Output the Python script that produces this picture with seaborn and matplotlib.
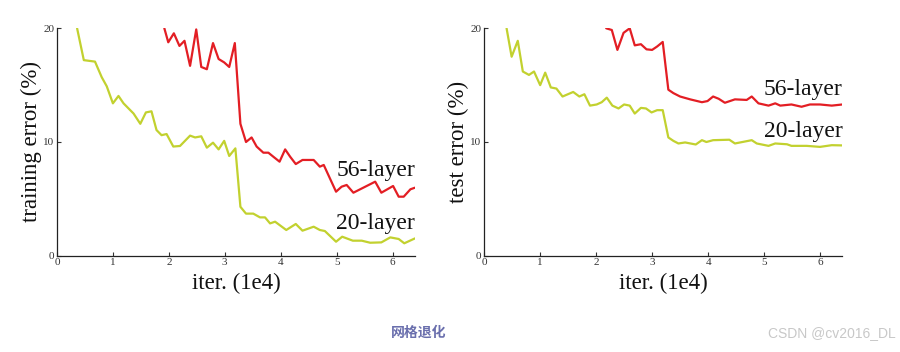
import numpy as np
import pandas as pd
import matplotlib
matplotlib.use("Agg")
import matplotlib.pyplot as plt
import seaborn as sns

# training error, 20-layer
train20_x = [0.36, 0.48, 0.68, 0.80, 0.89, 1.00, 1.10, 1.19, 1.37, 1.49, 1.59, 1.69, 1.78, 1.87, 1.96,
             2.08, 2.20, 2.38, 2.47, 2.58, 2.68, 2.79, 2.89, 2.99, 3.08, 3.19, 3.28, 3.38, 3.51, 3.63,
             3.72, 3.81, 3.90, 4.10, 4.27, 4.39, 4.59, 4.70, 4.79, 4.99, 5.10, 5.29, 5.45, 5.60, 5.80,
             5.96, 6.11, 6.21, 6.40]
train20_y = [20.0, 17.2, 17.07, 15.7, 14.9, 13.4, 14.05, 13.4, 12.5, 11.6, 12.6, 12.7, 11.05, 10.6, 10.7,
             9.6, 9.65, 10.56, 10.4, 10.5, 9.5, 9.94, 9.35, 10.1, 8.77, 9.44, 4.3, 3.7, 3.7, 3.37,
             3.37, 2.84, 2.99, 2.26, 2.79, 2.2, 2.55, 2.26, 2.17, 1.23, 1.67, 1.32, 1.32, 1.14, 1.17,
             1.61, 1.47, 1.09, 1.52]

# training error, 56-layer
train56_x = [1.92, 1.99, 2.09, 2.19, 2.28, 2.38, 2.49, 2.58, 2.68, 2.79, 2.89, 2.99, 3.08, 3.18, 3.28,
             3.38, 3.48, 3.57, 3.69, 3.78, 3.87, 3.98, 4.08, 4.17, 4.27, 4.39, 4.59, 4.70, 4.77, 4.99,
             5.09, 5.18, 5.30, 5.69, 5.80, 6.01, 6.11, 6.20, 6.32, 6.40]
train56_y = [20.0, 18.77, 19.56, 18.45, 18.9, 16.7, 19.9, 16.6, 16.4, 18.7, 17.3, 17.0, 16.6, 18.7, 11.6,
             10.0, 10.4, 9.6, 9.06, 9.06, 8.7, 8.27, 9.35, 8.7, 8.06, 8.42, 8.42, 7.83, 7.98, 5.63,
             6.07, 6.22, 5.54, 6.51, 5.54, 6.13, 5.19, 5.19, 5.84, 5.98]

# test error, 20-layer
test20_x = [0.40, 0.49, 0.60, 0.69, 0.80, 0.89, 1.00, 1.09, 1.19, 1.29, 1.40, 1.59, 1.70, 1.79, 1.89,
            2.01, 2.10, 2.19, 2.29, 2.40, 2.50, 2.60, 2.69, 2.80, 2.89, 2.99, 3.09, 3.19, 3.29, 3.38,
            3.47, 3.59, 3.78, 3.89, 3.97, 4.09, 4.38, 4.48, 4.78, 4.87, 5.08, 5.20, 5.41, 5.49, 5.76,
            6.00, 6.21, 6.40]
test20_y = [20.0, 17.5, 18.9, 16.2, 15.9, 16.2, 15.0, 16.1, 14.8, 14.7, 14.0, 14.4, 14.0, 14.2, 13.2,
            13.3, 13.5, 13.9, 13.2, 12.95, 13.3, 13.2, 12.5, 13.0, 12.95, 12.6, 12.8, 12.8, 10.4, 10.1,
            9.87, 9.96, 9.78, 10.16, 10.0, 10.16, 10.2, 9.87, 10.16, 9.87, 9.66, 9.87, 9.8, 9.66, 9.66,
            9.57, 9.72, 9.7]

# test error, 56-layer
test56_x = [2.18, 2.28, 2.38, 2.49, 2.60, 2.69, 2.80, 2.90, 3.00, 3.09, 3.19, 3.29, 3.38, 3.50, 3.68,
            3.89, 3.99, 4.09, 4.19, 4.30, 4.48, 4.69, 4.78, 4.90, 5.08, 5.20, 5.29, 5.49, 5.67, 5.82,
            6.00, 6.21, 6.40]
test56_y = [20.0, 19.85, 18.1, 19.6, 20.0, 18.5, 18.6, 18.15, 18.1, 18.4, 18.8, 14.6, 14.3, 14.0, 13.75,
            13.5, 13.6, 14.0, 13.8, 13.45, 13.75, 13.7, 14.0, 13.4, 13.2, 13.4, 13.2, 13.3, 13.1, 13.3,
            13.3, 13.2, 13.3]

x_ticks = [0, 1, 2, 3, 4, 5, 6]
y_ticks = [0, 10, 20]
panels = [
    ("training error (%)", train20_x, train20_y, train56_x, train56_y, 7.5, 2.8),
    ("test error (%)", test20_x, test20_y, test56_x, test56_y, 14.6, 10.9),
]

sns.set_theme(style="white")
plt.rcParams['font.family'] = ['Liberation Serif', 'DejaVu Serif']

palette = {"20-layer": "#c2d12f", "56-layer": "#e31e24"}

fig = plt.figure(figsize=(9, 3.52), dpi=100)
axes = [fig.add_axes([0.0633, 0.2736, 0.3977, 0.646]),
        fig.add_axes([0.538, 0.2736, 0.398, 0.646])]

for ax, (ylabel, x20, y20, x56, y56, lab56, lab20) in zip(axes, panels):
    df = pd.concat([
        pd.DataFrame({"iter": x20, "err": y20, "net": "20-layer"}),
        pd.DataFrame({"iter": x56, "err": y56, "net": "56-layer"}),
    ])
    sns.lineplot(data=df, x="iter", y="err", hue="net", palette=palette,
                 estimator=None, sort=False, linewidth=1.6, legend=False, ax=ax)
    ax.set_xlim(0, 6.4)
    ax.set_ylim(0, 20)
    ax.set_xticks(x_ticks)
    ax.set_yticks(y_ticks)
    ax.tick_params(direction="in", length=3, width=0.8, labelsize=8,
                   colors="#333333", pad=2, bottom=True, left=True)
    ax.set_xlabel("iter. (1e4)", fontsize=16.5, color="#111111", labelpad=4)
    ax.set_ylabel(ylabel, fontsize=16.5, color="#111111", labelpad=1)
    for s in ["top", "right"]:
        ax.spines[s].set_visible(False)
    for s in ["left", "bottom"]:
        ax.spines[s].set_color("#222222")
        ax.spines[s].set_linewidth(0.9)
    ax.text(6.4, lab56, "56-layer", fontsize=17, ha="right", va="center", color="#111111")
    ax.text(6.4, lab20, "20-layer", fontsize=17, ha="right", va="center", color="#111111")

fig.text(0.465, 0.054, "网格退化", fontsize=10, fontweight="bold", color="#6a6fad",
         ha="center", va="center", family=['Noto Sans CJK SC', 'DejaVu Sans'])
fig.text(0.995, 0.054, "CSDN @cv2016_DL", fontsize=10, color="#c8c8c8",
         ha="right", va="center", family=['Liberation Sans', 'DejaVu Sans'])

fig.savefig("out.png", dpi=100)
